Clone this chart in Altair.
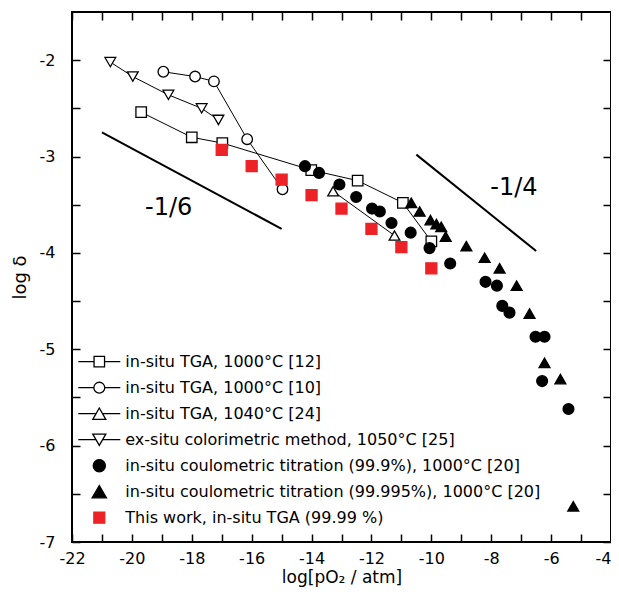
import altair as alt
import pandas as pd

FONT = "DejaVu Sans"

# ---- series names (legend order) ----
S1 = "in-situ TGA, 1000°C [12]"
S2 = "in-situ TGA, 1000°C [10]"
S3 = "in-situ TGA, 1040°C [24]"
S4 = "ex-situ colorimetric method, 1050°C [25]"
S5 = "in-situ coulometric titration (99.9%), 1000°C [20]"
S6 = "in-situ coulometric titration (99.995%), 1000°C [20]"
S7 = "This work, in-situ TGA (99.99 %)"
series_names = [S1, S2, S3, S4, S5, S6, S7]

# ---- data ----
tga12_x = [-19.69, -18.0, -16.98, -14.01, -12.46, -10.95, -10.0]
tga12_y = [-2.54, -2.80, -2.86, -3.14, -3.25, -3.48, -3.88]
tga10_x = [-18.95, -17.89, -17.26, -16.15, -14.97]
tga10_y = [-2.12, -2.17, -2.22, -2.82, -3.34]
tga24_x = [-13.28, -11.23]
tga24_y = [-3.36, -3.82]
col25_x = [-20.72, -19.97, -18.78, -17.67, -17.11]
col25_y = [-2.02, -2.17, -2.36, -2.50, -2.62]
ct999_x = [-14.22, -13.75, -13.07, -12.51, -11.98, -11.72, -11.33, -10.69, -10.06,
           -9.37, -8.19, -7.81, -7.63, -7.39, -6.52, -6.22, -6.30, -5.42]
ct999_y = [-3.10, -3.17, -3.29, -3.42, -3.54, -3.57, -3.69, -3.79, -3.95,
           -4.11, -4.30, -4.34, -4.55, -4.62, -4.87, -4.87, -5.33, -5.62]
ct99995_x = [-10.67, -10.39, -10.03, -9.83, -9.67, -9.52, -8.83, -8.22, -7.72,
             -7.15, -6.72, -6.22, -5.69, -5.26]
ct99995_y = [-3.48, -3.57, -3.66, -3.70, -3.73, -3.83, -3.93, -4.05, -4.16,
             -4.34, -4.63, -5.14, -5.31, -6.63]
this_x = [-17, -16, -15, -14, -13, -12, -11, -10]
this_y = [-2.93, -3.10, -3.24, -3.40, -3.54, -3.75, -3.94, -4.16]

# slope guide lines and their labels
slope_id = ["a", "a", "b", "b"]
slope_x = [-21.0, -15.0, -10.5, -6.5]
slope_y = [-2.75, -3.75, -2.98, -3.98]
slope_text = ["-1/6", "-1/4"]
slope_text_x = [-18.77, -7.24]
slope_text_y = [-3.535, -3.325]

# axis ticks
x_ticks = list(range(-22, -3))
y_ticks = [-7 + 0.5 * i for i in range(11)]

# ---- styles ----
shapes = ["square", "circle", "triangle-up", "triangle-down", "circle", "triangle-up", "square"]
fills = ["white", "white", "white", "white", "black", "black", "#ec2226"]
strokes = ["black"] * 6 + ["#ec2226"]
sizes = [110, 121, 160, 160, 144, 180, 121]

# legend symbols (custom paths, line stubs for connected series)
legend_paths = [
    "M-1,0H-0.25M0.25,0H1M-0.25,-0.25H0.25V0.25H-0.25Z",
    "M-1,0H-0.26M0.26,0H1M0.26,0A0.26,0.26,0,1,1,-0.26,0A0.26,0.26,0,1,1,0.26,0Z",
    "M-1,0H-0.16M0.16,0H1M0,-0.27L0.31,0.27L-0.31,0.27Z",
    "M-1,0H-0.16M0.16,0H1M0,0.27L0.31,-0.27L-0.31,-0.27Z",
    "M0.29,0A0.29,0.29,0,1,1,-0.29,0A0.29,0.29,0,1,1,0.29,0Z",
    "M0,-0.29L0.34,0.29L-0.34,0.29Z",
    "M-0.26,-0.26H0.26V0.26H-0.26Z",
]

rows = []
draw_order = [(S1, tga12_x, tga12_y), (S2, tga10_x, tga10_y), (S3, tga24_x, tga24_y),
              (S4, col25_x, col25_y), (S5, ct999_x, ct999_y), (S6, ct99995_x, ct99995_y),
              (S7, this_x, this_y)]
for name, xs, ys in draw_order:
    for xv, yv in zip(xs, ys):
        rows.append({"series": name, "x": xv, "y": yv})
df = pd.DataFrame(rows)
df_lines = df[df["series"].isin([S1, S2, S3, S4])]

df_slope = pd.DataFrame({"id": slope_id, "x": slope_x, "y": slope_y})
df_text = pd.DataFrame({"t": slope_text, "x": slope_text_x, "y": slope_text_y})

xscale = alt.Scale(domain=[-22, -4], nice=False, zero=False)
yscale = alt.Scale(domain=[-7, -1.5], nice=False, zero=False)

TICK = 8
x_axis = alt.Axis(values=x_ticks, labelExpr="datum.value % 2 == 0 ? '' + datum.value : ''",
                  labelAlign={"condition": {"test": "datum.value === -4", "value": "right"},
                              "value": "center"},
                  tickSize=TICK, offset=-TICK, domain=False, grid=False, tickColor="black",
                  tickWidth=1.5, labelPadding=8, labelFontSize=16, labelColor="black",
                  labelFont=FONT, labelFlush=False, labelOverlap=False,
                  title="log[pO₂ / atm]", titleFont=FONT, titleFontSize=17,
                  titleFontWeight="normal", titleColor="black", titlePadding=3)
y_axis = alt.Axis(values=y_ticks, labelExpr="datum.value % 1 == 0 ? '' + datum.value : ''",
                  tickSize=TICK, offset=-TICK, domain=False, grid=False, tickColor="black",
                  tickWidth=1.5, labelPadding=17, labelFontSize=16, labelColor="black",
                  labelFont=FONT, labelFlush=False, labelOverlap=False,
                  title="log δ", titleFont=FONT, titleFontSize=18,
                  titleFontWeight="normal", titleColor="black", titlePadding=10)
x_top = alt.Axis(values=x_ticks, orient="top", labels=False, tickSize=TICK, offset=-TICK,
                 domain=False, grid=False, tickColor="black", tickWidth=1.5, title=None)
y_right = alt.Axis(values=y_ticks, orient="right", labels=False, tickSize=TICK, offset=-TICK,
                   domain=False, grid=False, tickColor="black", tickWidth=1.5, title=None)

legend = alt.Legend(
    title=None, orient="none", legendX=5.3, legendY=336.7, padding=0,
    symbolSize=1764, clipHeight=26, rowPadding=0, labelFontSize=16, labelFont=FONT,
    labelColor="black", labelLimit=700, labelOffset=4, symbolStrokeWidth=1.3,
    symbolOpacity=1,
)

lines = alt.Chart(df_lines).mark_line(color="black", strokeWidth=1).encode(
    x=alt.X("x:Q", scale=xscale, axis=None),
    y=alt.Y("y:Q", scale=yscale, axis=None),
    detail="series:N",
    order="x:Q",
)

slopes = alt.Chart(df_slope).mark_line(color="black", strokeWidth=2).encode(
    x=alt.X("x:Q", scale=xscale, axis=x_top),
    y=alt.Y("y:Q", scale=yscale, axis=y_right),
    detail="id:N",
)

texts = alt.Chart(df_text).mark_text(fontSize=24, font=FONT, color="black").encode(
    x=alt.X("x:Q", scale=xscale, axis=None),
    y=alt.Y("y:Q", scale=yscale, axis=None),
    text="t:N",
)

points = alt.Chart(df).mark_point(filled=True, strokeWidth=1.3, opacity=1).encode(
    x=alt.X("x:Q", scale=xscale, axis=x_axis),
    y=alt.Y("y:Q", scale=yscale, axis=y_axis),
    shape=alt.Shape("series:N", scale=alt.Scale(domain=series_names, range=shapes), legend=None),
    fill=alt.Fill("series:N", scale=alt.Scale(domain=series_names, range=fills), legend=None),
    stroke=alt.Stroke("series:N", scale=alt.Scale(domain=series_names, range=strokes), legend=None),
    size=alt.Size("series:N", scale=alt.Scale(domain=series_names, range=sizes), legend=None),
)

# legend-only layer: no rows are drawn, the legend comes from the explicit domains
legend_layer = alt.Chart(df).transform_filter("false").mark_point(
    filled=True, strokeWidth=1.3, opacity=1
).encode(
    x=alt.X("x:Q", scale=xscale, axis=None),
    y=alt.Y("y:Q", scale=yscale, axis=None),
    shape=alt.Shape("series:N", scale=alt.Scale(domain=series_names, range=legend_paths), legend=legend),
    fill=alt.Fill("series:N", scale=alt.Scale(domain=series_names, range=fills), legend=legend),
    stroke=alt.Stroke("series:N", scale=alt.Scale(domain=series_names, range=strokes), legend=legend),
)

chart = alt.layer(lines, slopes, texts, points, legend_layer).resolve_axis(
    x="independent", y="independent"
).resolve_scale(
    shape="independent", fill="independent", stroke="independent"
).properties(
    width=539, height=530,
    autosize=alt.AutoSizeParams(type="none"),
    padding={"left": 64, "top": 4, "right": 0, "bottom": 46},
).configure_view(stroke="black", strokeWidth=2)

chart.save("out.html", embed_options={"renderer": "svg", "actions": False})
